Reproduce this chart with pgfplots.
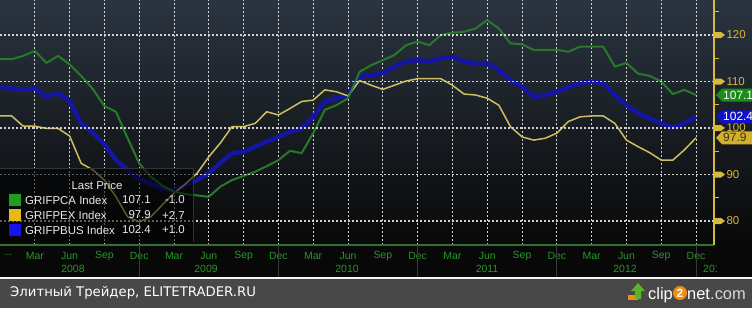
\documentclass[border=0pt]{standalone}
\usepackage{pgfplots}
\usepackage{pgfplotstable}
\pgfplotsset{compat=1.18}
\usepackage{fontspec}
\setmainfont{Liberation Sans}
\newfontfamily\dejavu{DejaVu Sans}
\definecolor{bgtop}{RGB}{42,52,64}
\definecolor{bgbot}{RGB}{8,8,8}
\definecolor{band}{RGB}{72,72,72}
\definecolor{gridc}{RGB}{210,210,210}
\definecolor{axgreen}{RGB}{55,110,55}
\definecolor{tickgreen}{RGB}{40,150,40}
\definecolor{gold}{RGB}{215,185,60}
\definecolor{lgreen}{RGB}{38,122,42}
\definecolor{lblue}{RGB}{20,20,165}
\definecolor{lyellow}{RGB}{205,190,100}
\definecolor{sqgreen}{RGB}{30,160,30}
\definecolor{sqyellow}{RGB}{230,185,30}
\definecolor{sqblue}{RGB}{20,20,230}
\definecolor{taggreen}{RGB}{25,140,25}
\definecolor{tagblue}{RGB}{16,16,200}
\definecolor{tagyellow}{RGB}{210,175,45}
\definecolor{legtext}{RGB}{232,232,232}
\definecolor{clipor}{RGB}{240,140,20}
\definecolor{clipgr}{RGB}{90,180,40}

\pgfplotstableread{
m G B Y
0 114.8 108.9 102.6
1 114.8 108.5 102.6
2 115.5 108.2 100.4
3 116.6 108.5 100.4
4 114.0 106.7 99.9
5 115.5 107.5 99.9
6 113.7 105.8 98.3
7 111.2 101.0 92.4
8 108.4 99.0 91.0
9 104.7 96.5 88.8
10 103.5 93.1 85.2
11 97.8 91.0 80.9
12 92.4 89.0 79.8
13 89.5 88.0 80.9
14 87.6 87.0 83.5
15 86.3 86.5 86.0
16 85.8 87.8 88.0
17 85.5 88.8 90.3
18 85.2 90.3 93.8
19 87.4 92.5 96.8
20 88.8 94.6 100.3
21 89.7 94.9 100.3
22 90.6 96.0 101.0
23 91.8 97.1 103.5
24 93.1 98.1 102.8
25 95.1 99.2 104.2
26 94.6 99.9 105.7
27 98.9 102.4 106.0
28 103.9 105.7 108.2
29 104.9 106.4 107.8
30 106.4 107.1 106.9
31 112.1 111.0 110.2
32 113.5 111.4 109.2
33 114.6 111.8 108.3
34 115.7 113.2 109.2
35 117.8 114.3 110.1
36 118.6 114.6 110.6
37 117.8 114.3 110.6
38 120.0 115.0 110.6
39 120.5 115.3 109.2
40 120.7 114.3 107.3
41 121.4 113.9 107.1
42 123.2 113.9 106.4
43 121.4 112.5 104.9
44 118.2 110.3 100.3
45 118.0 108.9 98.1
46 116.8 106.7 97.4
47 116.8 107.1 97.8
48 116.8 107.8 98.9
49 116.4 108.9 101.4
50 117.5 109.6 102.4
51 117.5 110.0 102.6
52 117.5 109.6 102.6
53 113.2 107.1 101.0
54 114.0 104.9 97.4
55 111.7 103.2 96.0
56 111.2 102.1 94.7
57 110.0 101.0 93.1
58 107.3 100.1 93.1
59 108.2 101.0 95.3
60 107.1 102.4 97.9
}\datatable

\begin{document}
\begin{tikzpicture}[x=1bp,y=1bp]
\useasboundingbox (0,0) rectangle (752,308);
\shade[top color=bgtop, bottom color=bgbot] (0,63) rectangle (752,308);
\fill[bgbot] (0,31) rectangle (752,63);
\fill[white!92!gray] (0,29) rectangle (752,31);
\fill[band] (0,0) rectangle (752,29);

\begin{axis}[
  at={(0bp,308bp)}, anchor=north west,
  scale only axis, width=714bp, height=245bp,
  xmin=0, xmax=61.55, ymin=74.84, ymax=127.53,
  axis x line*=bottom, axis y line*=right,
  x axis line style={draw=axgreen, line width=1.2bp},
  y axis line style={draw=gold, line width=1.4bp},
  xtick={3,6,...,60},
  xticklabels={Mar,Jun,Sep,Dec,Mar,Jun,Sep,Dec,Mar,Jun,Sep,Dec,Mar,Jun,Sep,Dec,Mar,Jun,Sep,Dec},
  ytick={80,90,...,120},
  minor ytick={85,95,...,125},
  xmajorgrids=true,
  major grid style={draw=gridc, dash pattern=on 2bp off 2bp, line width=1bp},
  xtick style={draw=none},
  ytick style={draw=gold, line width=1bp},
  major tick length=0bp, minor tick length=5bp, tick align=outside,
  /pgf/number format/assume math mode=true,
  xticklabel style={text=tickgreen, font=\fontsize{10.5}{11}\selectfont, anchor=center, yshift=-10.5bp},
  yticklabel style={text=gold, font=\fontsize{11.5}{12}\selectfont, anchor=west, xshift=9bp},
]
\addplot[lblue, line width=4.4bp, line join=round] table[x=m,y=B]{\datatable};
\addplot[lyellow, line width=1.5bp, line join=round] table[x=m,y=Y]{\datatable};
\addplot[lgreen, line width=2bp, line join=round] table[x=m,y=G]{\datatable};
\end{axis}

% horizontal grid lines at 80,90,...,120 (drawn over the axis)
\foreach \yy in {87.0,133.5,180.0,226.5,273.0}{
  \draw[gridc, dash pattern=on 2bp off 2bp, line width=1.1bp] (0,\yy) -- (713,\yy);
}
% right-axis major markers
\foreach \yy in {87.0,133.5,180.0,226.5,273.0}{
  \fill[gold] (714,\yy+3) -- (721,\yy+3) -- (725,\yy) -- (721,\yy-3) -- (714,\yy-3) -- cycle;
}
% year separators
\foreach \xx in {139.2,278.4,417.6,556.8,696}{
  \draw[gray!45!black, line width=0.8bp] (\xx,63) -- (\xx,31);
}

% year labels
\begin{scope}[every node/.style={text=tickgreen, font=\fontsize{10.5}{11}\selectfont, inner sep=0}]
\node at (73,39) {2008};
\node at (206,39) {2009};
\node at (347,39) {2010};
\node at (487,39) {2011};
\node at (625,39) {2012};
\node at (8,53) {...};
\end{scope}
\begin{scope}
\clip (690,31) rectangle (716,63);
\node[text=tickgreen, font=\fontsize{10.5}{11}\selectfont, inner sep=0, anchor=west] at (703,39) {2013};
\end{scope}

% value tags
\newcommand{\tag}[4]{%
  \fill[#2] (716,#1) -- (722,#1+6.5) -- (760,#1+6.5) -- (760,#1-6.5) -- (722,#1-6.5) -- cycle;
  \node[anchor=west, inner sep=0, text=#3, font=\fontsize{12}{12}\selectfont] at (723,#1) {#4};
}
\tag{213}{taggreen}{white}{107.1}
\tag{191.2}{tagblue}{white}{102.4}
\tag{170.2}{tagyellow}{black!70!tagyellow}{97.9}

% legend
\fill[black, fill opacity=0.55] (0,66) rectangle (193,140);
\draw[black!80] (0,140) -- (193,140) -- (193,66);
\begin{scope}[every node/.style={text=legtext, font=\fontsize{11.5}{12}\selectfont, inner sep=0}]
\node at (97,123) {Last Price};
\fill[sqgreen] (9,102) rectangle (21,114);
\fill[sqyellow] (9,87) rectangle (21,99);
\fill[sqblue] (9,72) rectangle (21,84);
\node[anchor=west] at (25,108) {GRIFPCA Index};
\node[anchor=west] at (25,93) {GRIFPEX Index};
\node[anchor=west] at (25,78) {GRIFPBUS Index};
\node[anchor=east] at (151,108) {107.1};
\node[anchor=east] at (151,93) {97.9};
\node[anchor=east] at (151,78) {102.4};
\node[anchor=east] at (185,108) {-1.0};
\node[anchor=east] at (185,93) {+2.7};
\node[anchor=east] at (185,78) {+1.0};
\end{scope}

% bottom band
\node[anchor=west, inner sep=0, text=white, font=\dejavu\fontsize{13.3}{14}\selectfont] at (10,15) {Элитный Трейдер, ELITETRADER.RU};
% clip2net logo
\fill[clipor] (628,8) rectangle (638,13);
\fill[clipgr] (638,25) -- (645,17) -- (641,17) -- (641,9) -- (635,9) -- (635,17) -- (631,17) -- cycle;
\node[anchor=base west, inner sep=0, text=white, font=\fontsize{16.5}{17}\selectfont] at (648,9) {clip};
\fill[clipor] (680,15) circle (7);
\node[inner sep=0, text=white, font=\bfseries\fontsize{12}{12}\selectfont] at (680,15) {2};
\node[anchor=base west, inner sep=0, text=white, font=\fontsize{16.5}{17}\selectfont] at (687,9) {net};
\node[anchor=base west, inner sep=0, text=white!70!gray, font=\fontsize{16.5}{17}\selectfont] at (710,9) {.com};
\end{tikzpicture}
\end{document}
